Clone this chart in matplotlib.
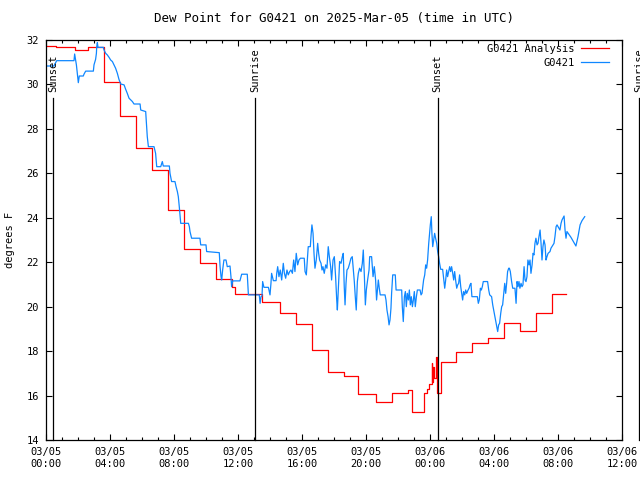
"""
Dew point at station G0421, 2025-Mar-05 (UTC): observed series vs. the
hourly analysis, with sunset/sunrise markers.  Writes out.png.
"""

import matplotlib
matplotlib.use("Agg")
import matplotlib.pyplot as plt
from matplotlib.ticker import MultipleLocator

# ── data (hours after 03/05 00:00 UTC, degrees F) ───────────────────────────────
analysis_hours = [0.0, 0.6, 1.8, 2.6, 3.6, 4.6, 5.6, 6.6, 7.6, 8.6, 9.6, 10.6,
                  11.6, 11.8, 13.5, 14.6, 15.6, 16.6, 17.6, 18.6, 19.5, 20.6,
                  21.6, 22.6, 22.85, 23.6, 23.8, 23.96, 24.1, 24.14, 24.2,
                  24.27, 24.36, 24.42, 24.67, 25.6, 26.6, 27.6, 28.6, 29.6,
                  30.6, 31.6, 32.5]
analysis_dewpt = [31.73, 31.70, 31.55, 31.70, 30.10, 28.60, 27.14, 26.15,
                  24.35, 22.58, 21.95, 21.23, 20.90, 20.57, 20.22, 19.73,
                  19.20, 18.03, 17.04, 16.90, 16.07, 15.72, 16.10, 16.25,
                  15.24, 16.10, 16.30, 16.50, 17.45, 16.60, 17.30, 16.80,
                  17.74, 16.10, 17.49, 17.97, 18.35, 18.58, 19.25, 18.90,
                  19.70, 20.55, 20.55]

obs_hours = [
    0.0, 0.5, 0.58, 0.67, 1.75, 1.79, 1.9, 1.96, 2.02, 2.08, 2.33, 2.38, 2.48,
    2.96, 3.0, 3.1, 3.15, 3.17, 3.21, 3.25, 3.58, 3.63, 3.73, 3.83, 3.94, 4.04,
    4.15, 4.25, 4.35, 4.46, 4.56, 4.67, 4.88, 4.98, 5.08, 5.19, 5.4, 5.5, 5.88,
    5.92, 6.23, 6.29, 6.33, 6.4, 6.75, 6.85, 6.92, 7.17, 7.27,
    7.33, 7.71, 7.75, 7.85, 8.06, 8.13, 8.21, 8.27, 8.33, 8.42, 8.9, 8.96, 9.0,
    9.1, 9.62, 9.67, 10.0, 10.04, 10.83, 10.88, 10.94, 10.98, 11.04, 11.12,
    11.25, 11.33, 11.5, 11.56, 11.6, 11.67, 12.12, 12.23, 12.58, 12.65, 13.33,
    13.38, 13.44, 13.5, 13.54, 13.62, 13.9, 14.0, 14.06, 14.1, 14.21, 14.38,
    14.42,
    14.48, 14.56, 14.64, 14.73, 14.83, 14.9, 14.98, 15.06, 15.14, 15.23, 15.31,
    15.4, 15.48, 15.56, 15.64, 15.73, 15.81, 15.9, 16.14, 16.19, 16.27, 16.35,
    16.39, 16.52, 16.56, 16.62, 16.69, 16.75, 16.81, 16.89, 16.98, 17.04, 17.1,
    17.19, 17.25, 17.31, 17.39, 17.48, 17.56, 17.64, 17.71, 17.79, 17.85, 17.94,
    18.02, 18.1, 18.17, 18.21, 18.27, 18.35, 18.44, 18.52, 18.58, 18.64, 18.69,
    18.75, 18.81, 18.89, 18.98, 19.06, 19.14, 19.21, 19.27, 19.33, 19.39, 19.46,
    19.52, 19.6, 19.69, 19.77, 19.83, 19.9, 19.96, 20.02, 20.1, 20.19, 20.23,
    20.35, 20.44, 20.52, 20.6, 20.66, 20.77, 20.83, 20.89, 21.19, 21.25, 21.31,
    21.38, 21.44, 21.5, 21.56, 21.6, 21.67,
    21.83, 21.88, 22.23, 22.27, 22.33, 22.4, 22.46, 22.52, 22.58, 22.65, 22.71,
    22.77, 22.83, 22.9, 22.96, 23.02, 23.08, 23.15, 23.21, 23.38, 23.44, 23.5,
    23.54, 23.6, 23.67, 23.73, 23.79, 23.85, 23.92, 23.98, 24.02, 24.08, 24.12,
    24.17, 24.23, 24.29, 24.35, 24.42, 24.48, 24.54, 24.6, 24.67, 24.79, 24.85,
    24.92, 24.98, 25.04, 25.1, 25.17, 25.23, 25.29, 25.35, 25.42, 25.48, 25.54,
    25.6, 25.67, 25.73, 25.79, 25.85, 25.92, 25.98, 26.04, 26.1, 26.17, 26.23,
    26.29, 26.38, 26.44, 26.5, 26.56, 26.62, 26.96, 27.02, 27.08, 27.15, 27.21,
    27.27, 27.33, 27.6, 27.67, 27.73, 27.85, 27.92, 27.98, 28.04, 28.1, 28.17,
    28.23, 28.29, 28.35, 28.42, 28.48, 28.54, 28.6, 28.67, 28.73, 28.79, 28.85,
    28.92,
    28.96, 29.02, 29.1, 29.17, 29.31, 29.38, 29.44, 29.5, 29.56, 29.62, 29.69,
    29.75, 29.81, 29.88, 29.94, 30.0, 30.06, 30.12, 30.19, 30.25, 30.31, 30.38,
    30.44, 30.5, 30.56, 30.62, 30.69, 30.75, 30.81, 30.88, 30.94, 31.0, 31.06,
    31.12, 31.19, 31.25, 31.31, 31.38, 31.5, 31.56, 31.62, 31.75, 31.81, 31.88,
    31.94, 32.06, 32.12, 32.19, 32.25, 32.31, 32.38, 32.44, 32.5, 32.56, 32.81,
    33.12, 33.25, 33.38, 33.5, 33.67,
]
obs_dewpt = [
    30.83, 30.83, 30.95, 31.07, 31.07, 31.37, 30.88, 30.5, 30.08, 30.38, 30.38,
    30.47, 30.6, 30.6, 30.88, 31.13, 31.4, 31.7, 31.88, 31.67, 31.67, 31.55,
    31.4, 31.33, 31.22, 31.1, 31.03, 30.88, 30.73, 30.5, 30.23, 30.02, 29.98,
    29.78, 29.6, 29.38, 29.23, 29.12, 29.12, 28.85, 28.78, 28.1, 27.65, 27.2,
    27.2, 26.9, 26.3, 26.3, 26.53,
    26.33, 26.33, 26.0, 25.63, 25.63, 25.4, 25.18, 24.95, 24.5, 23.75, 23.75,
    23.6, 23.38, 23.08, 23.08, 22.78, 22.78, 22.48, 22.43, 21.8, 21.35, 21.2,
    21.65, 22.1, 22.1, 21.8, 21.83, 21.35, 20.9, 21.16, 21.16, 21.46, 21.46,
    20.53, 20.53, 20.15, 20.45, 20.48, 21.13, 20.87, 20.87, 20.53, 21.05, 21.5,
    21.17, 21.17, 21.5,
    21.8, 21.35, 21.65, 21.2, 21.95, 21.5, 21.28, 21.65, 21.43, 21.58, 21.65,
    21.5, 22.1, 21.58, 22.4, 21.88, 22.1, 22.18, 22.18, 21.58, 21.43, 22.25,
    22.7, 22.7, 23.15, 23.68, 23.3, 22.4, 21.73, 22.1, 22.85, 22.4, 22.1, 21.95,
    21.65, 21.8, 21.5, 21.88, 21.73, 22.7, 22.25, 21.8, 21.2, 22.1, 22.25,
    21.35, 20.3, 19.85, 20.75, 22.03, 21.95, 22.25, 22.4, 20.9, 20.08, 21.05,
    21.65, 21.73, 21.95, 22.18, 22.25, 21.65, 21.13, 20.45, 19.85, 21.13, 21.5,
    21.73, 21.58, 21.95, 22.55, 21.35, 20.08, 20.75, 21.2, 21.65, 22.25, 22.25,
    21.35, 21.8, 21.2, 20.3, 21.2, 20.83, 20.53, 20.53, 20.3, 19.85, 19.55,
    19.18, 19.4, 19.93, 20.6, 21.43,
    21.43, 20.75, 20.75, 20.0, 19.33, 20.45, 20.68, 20.0, 20.6, 20.3, 20.75,
    20.08, 20.45, 20.0, 20.3, 20.68, 20.0, 20.45, 20.75, 20.75, 20.53, 20.6,
    20.83, 21.2, 21.43, 21.88, 21.73, 22.1, 22.85, 23.38, 23.68, 24.05, 23.3,
    22.7, 23.0, 23.3, 23.08, 22.85, 22.48, 22.25, 21.95, 21.68, 21.68, 21.28,
    20.83, 21.2, 21.65, 21.35, 21.58, 21.8, 21.58, 21.8, 21.5, 21.2, 21.58,
    21.2, 20.83, 20.98, 21.05, 21.43, 20.9, 20.6, 20.3, 20.68, 20.53, 20.75,
    20.6, 20.75, 20.83, 20.98, 21.05, 20.45, 20.45, 20.15, 20.3, 20.83, 20.75,
    20.9, 21.13, 21.13, 20.75, 20.53, 20.45, 20.08, 19.85, 19.63, 19.4, 19.1,
    18.88, 19.18, 19.25, 19.7, 20.0, 20.08, 20.53, 21.05, 20.6, 21.05, 21.58,
    21.73,
    21.73, 21.58, 21.13, 20.83, 20.83, 20.15, 21.13, 20.9, 21.13, 20.83, 21.05,
    20.9, 20.98, 21.8, 21.2, 21.13, 21.35, 22.1, 21.88, 22.1, 21.5, 21.88, 22.4,
    22.33, 22.85, 23.08, 22.78, 22.85, 23.15, 23.45, 22.85, 22.1, 22.7, 23.0,
    22.78, 22.1, 22.25, 22.4, 22.48, 22.63, 22.7, 22.85, 23.15, 23.6, 23.68,
    23.53, 23.45, 23.75, 23.9, 23.98, 24.08, 23.45, 23.08, 23.38, 23.12, 22.73,
    23.15, 23.68, 23.87, 24.05,
]

sun_hours = [0.44, 13.09, 24.47, 37.05]
sun_labels = ["Sunset", "Sunrise", "Sunset", "Sunrise"]

xtick_hours = [0, 4, 8, 12, 16, 20, 24, 28, 32, 36]
xtick_labels = ["03/05\n00:00", "03/05\n04:00", "03/05\n08:00", "03/05\n12:00",
                "03/05\n16:00", "03/05\n20:00", "03/06\n00:00", "03/06\n04:00",
                "03/06\n08:00", "03/06\n12:00"]

# ── figure ──────────────────────────────────────────────────────────────────────
plt.rcParams["font.family"] = ["DejaVu Sans Mono"]
plt.rcParams["font.size"] = 7.5

fig = plt.figure(figsize=(6.4, 4.8), dpi=100)
ax = fig.add_axes([46 / 640, 40 / 480, 576 / 640, 400 / 480])

ax.plot(analysis_hours, analysis_dewpt, color="#ff0000", lw=0.9,
        drawstyle="steps-post", label="G0421 Analysis")
ax.plot(obs_hours, obs_dewpt, color="#0f87ff", lw=0.9, label="G0421")

# sunset / sunrise markers (the last one sits just past the right edge)
for h, name in zip(sun_hours, sun_labels):
    ax.plot([h, h], [14, 29.4], color="black", lw=0.9, clip_on=False)
    ax.text(h, 29.68, name, rotation=90, ha="center", va="bottom",
            clip_on=False)

ax.set_xlim(0, 36)
ax.set_ylim(14, 32)
ax.set_xticks(xtick_hours)
ax.set_xticklabels(xtick_labels)
ax.xaxis.set_minor_locator(MultipleLocator(1))
ax.set_yticks(range(14, 33, 2))
ax.tick_params(which="both", direction="in", top=True, right=True, width=0.8)
ax.tick_params(which="major", length=4.5, pad=5)
ax.tick_params(which="minor", length=2.5)
for s in ax.spines.values():
    s.set_linewidth(0.9)

ax.set_ylabel("degrees F", labelpad=8)
ax.set_title("Dew Point for G0421 on 2025-Mar-05 (time in UTC)", pad=13)

ax.legend(loc="upper right", bbox_to_anchor=(0.977, 0.99), frameon=False,
          markerfirst=False, handlelength=2.7, handletextpad=0.6,
          borderpad=0, borderaxespad=0, labelspacing=0.35)

fig.savefig("out.png", dpi=100)
